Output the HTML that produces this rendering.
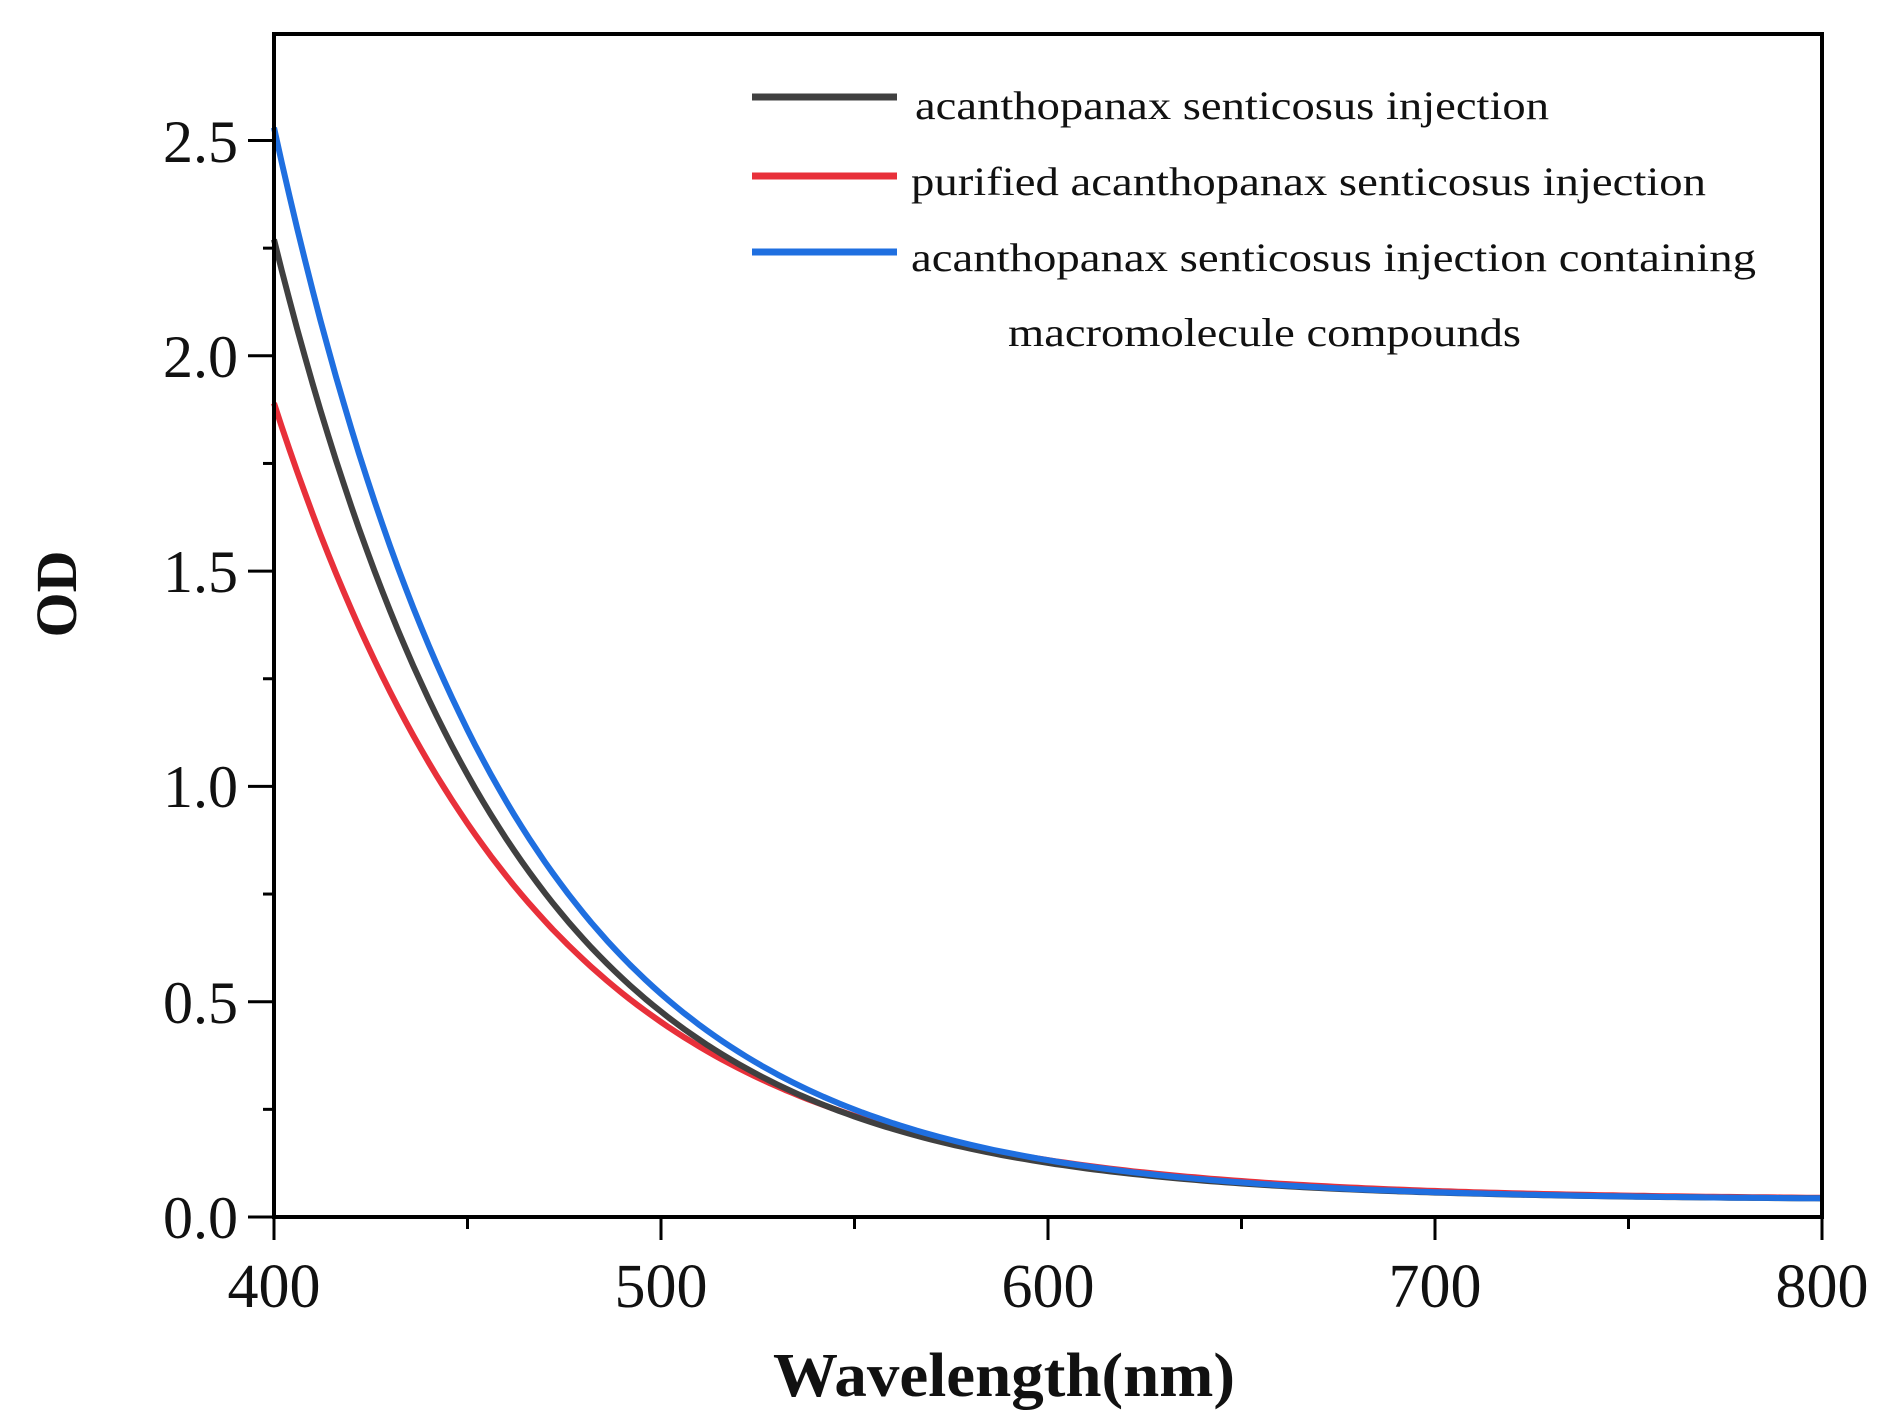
<!DOCTYPE html>
<html><head><meta charset="utf-8"><style>
html,body{margin:0;padding:0;background:#fff;}
svg{display:block;}
text{font-family:"Liberation Serif",serif;fill:#111;}
</style></head><body>
<svg id="s" width="1901" height="1424" viewBox="0 0 1901 1424" xmlns="http://www.w3.org/2000/svg">
<g id="curves" fill="none" stroke-width="6" stroke-linejoin="round"></g>
<rect x="274" y="34" width="1548" height="1183" fill="none" stroke="#000" stroke-width="4"/>
<g id="ticks" stroke="#000" stroke-width="3"></g>
<g font-size="60" text-anchor="end">
<text x="238" y="1238">0.0</text>
<text x="238" y="1023">0.5</text>
<text x="238" y="807">1.0</text>
<text x="238" y="592">1.5</text>
<text x="238" y="377">2.0</text>
<text x="238" y="162">2.5</text>
</g>
<g font-size="62" text-anchor="middle">
<text x="274" y="1307">400</text>
<text x="661" y="1307">500</text>
<text x="1048" y="1307">600</text>
<text x="1435" y="1307">700</text>
<text x="1822" y="1307">800</text>
</g>
<text x="1004" y="1396" font-size="62" font-weight="bold" text-anchor="middle" textLength="462" lengthAdjust="spacingAndGlyphs">Wavelength(nm)</text>
<text transform="translate(76,594) rotate(-90)" font-size="58" font-weight="bold" text-anchor="middle">OD</text>
<g stroke-width="7">
<line x1="752" y1="97" x2="897" y2="97" stroke="#404040"/>
<line x1="752" y1="176" x2="897" y2="176" stroke="#e8303a"/>
<line x1="752" y1="252" x2="897" y2="252" stroke="#1f6fe0"/>
</g>
<g font-size="40">
<text x="915" y="119" textLength="634" lengthAdjust="spacingAndGlyphs">acanthopanax senticosus injection</text>
<text x="911" y="195" textLength="795" lengthAdjust="spacingAndGlyphs">purified acanthopanax senticosus injection</text>
<text x="911" y="271" textLength="845" lengthAdjust="spacingAndGlyphs">acanthopanax senticosus injection containing</text>
<text x="1008" y="346" textLength="513" lengthAdjust="spacingAndGlyphs">macromolecule compounds</text>
</g>
</svg>
<script>
(function(){
var X=function(w){return 274+(w-400)*3.87;},Y=function(v){return 1217-v*430.6;};
var series=[["#e8303a",1.85,0.0150,0.04],["#404040",2.23,0.0163,0.04],["#1f6fe0",2.49,0.0165,0.04]];
var g=document.getElementById('curves'),ns="http://www.w3.org/2000/svg";
series.forEach(function(s){var d="";for(var w=400;w<=800;w+=2){var v=s[1]*Math.exp(-s[2]*(w-400))+s[3];d+=(w==400?"M":"L")+X(w).toFixed(1)+","+Y(v).toFixed(1);}
var p=document.createElementNS(ns,"path");p.setAttribute("d",d);p.setAttribute("stroke",s[0]);g.appendChild(p);});
var t=document.getElementById('ticks');
function ln(a,b,c,d){var l=document.createElementNS(ns,"line");l.setAttribute("x1",a);l.setAttribute("y1",b);l.setAttribute("x2",c);l.setAttribute("y2",d);t.appendChild(l);}
for(var i=0;i<=10;i++){var y=Y(i*0.25);ln(274,y,i%2?263:248,y);}
for(var j=0;j<=8;j++){var x=X(400+j*50);ln(x,1217,x,j%2?1229:1240);}
})();
</script>
</body></html>
